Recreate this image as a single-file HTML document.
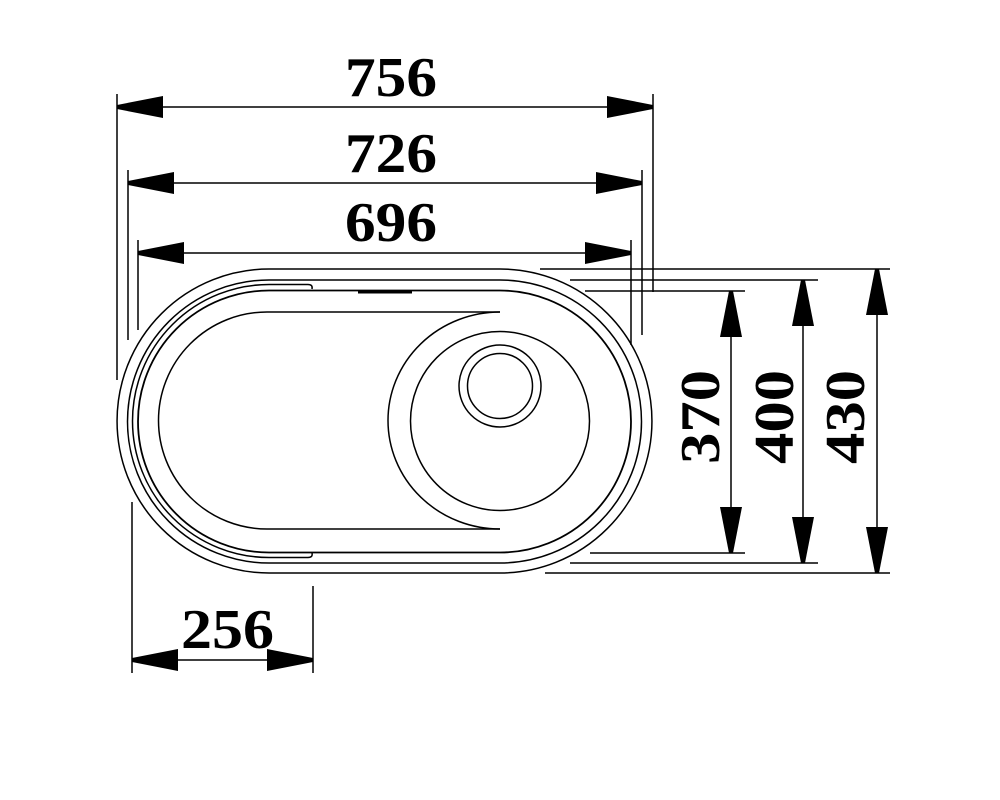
<!DOCTYPE html>
<html><head><meta charset="utf-8"><style>
html,body{margin:0;padding:0;background:#fff}
svg{display:block}
text{font-family:"Liberation Serif",serif;font-weight:bold;font-size:56px;fill:#000}
</style></head><body>
<svg width="1000" height="800" viewBox="0 0 1000 800" xmlns="http://www.w3.org/2000/svg">
<defs>
<marker id="a" viewBox="0 0 46 22" refX="46" refY="11" markerWidth="46" markerHeight="22" markerUnits="userSpaceOnUse" orient="auto-start-reverse">
<path d="M0 0 L46 9 L46 13 L0 22 Z" fill="#000"/>
</marker>
</defs>
<g fill="none" stroke="#000" stroke-width="1.5">
<path d="M269 269 H500 A152 152 0 0 1 500 573 H269 A152 152 0 0 1 269 269 Z"/>
<path d="M269 280 H500 A141.5 141.5 0 0 1 500 563 H269 A141.5 141.5 0 0 1 269 280 Z"/>
<path d="M269 290.5 H500 A131 131 0 0 1 500 552.5 H269 A131 131 0 0 1 269 290.5 Z" stroke-width="1.8"/>
<path d="M308 284.5 H269 A136.5 136.5 0 0 0 269 557.5 H308 Q313 557.5 312 553"/>
<path d="M308 284.5 Q313 284.5 312 289"/>
<path d="M358 292 H412" stroke-width="3"/>
<path d="M500 312 H267 A108.5 108.5 0 0 0 267 529 H500"/>
<path d="M500 312 A112 108.5 0 0 0 500 529"/>
<circle cx="500" cy="421" r="89.5"/>
<circle cx="500" cy="386" r="41"/>
<circle cx="500" cy="386" r="32.5"/>
<path d="M117 94 V380 M128 170 V340 M138 240 V330 M653 94 V292 M642 170 V335 M631 240 V345"/>
<path d="M540 269 H890 M570 280 H818 M585 291 H745 M590 553 H745 M570 563 H818 M545 573 H890"/>
<path d="M132 502 V673 M313 586 V673"/>
<path d="M117 107 H653" marker-start="url(#a)" marker-end="url(#a)"/>
<path d="M128 183 H642" marker-start="url(#a)" marker-end="url(#a)"/>
<path d="M138 253 H631" marker-start="url(#a)" marker-end="url(#a)"/>
<path d="M731 291 V553" marker-start="url(#a)" marker-end="url(#a)"/>
<path d="M803 280 V563" marker-start="url(#a)" marker-end="url(#a)"/>
<path d="M877 269 V573" marker-start="url(#a)" marker-end="url(#a)"/>
<path d="M132 660 H313" marker-start="url(#a)" marker-end="url(#a)"/>
</g>
<text x="345" y="96" textLength="92" lengthAdjust="spacingAndGlyphs">756</text>
<text x="345" y="172" textLength="92" lengthAdjust="spacingAndGlyphs">726</text>
<text x="345" y="241" textLength="92" lengthAdjust="spacingAndGlyphs">696</text>
<text x="181" y="648" textLength="93" lengthAdjust="spacingAndGlyphs">256</text>
<text transform="translate(719 464) rotate(-90)" textLength="94" lengthAdjust="spacingAndGlyphs">370</text>
<text transform="translate(793 464) rotate(-90)" textLength="94" lengthAdjust="spacingAndGlyphs">400</text>
<text transform="translate(864 464) rotate(-90)" textLength="94" lengthAdjust="spacingAndGlyphs">430</text>
</svg>
</body></html>
